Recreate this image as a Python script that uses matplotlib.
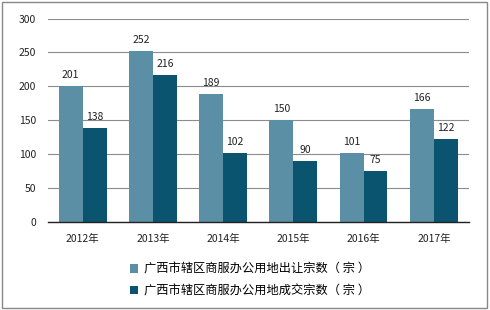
import numpy as np
import matplotlib
matplotlib.use("Agg")
import matplotlib.pyplot as plt
from matplotlib.patches import Rectangle

plt.rcParams['font.family'] = ['Noto Sans CJK SC', 'DejaVu Sans']

years = ["2012年", "2013年", "2014年", "2015年", "2016年", "2017年"]
supply = [201, 252, 189, 150, 101, 166]
deals = [138, 216, 102, 90, 75, 122]
name_supply = "广西市辖区商服办公用地出让宗数（ 宗 ）"
name_deals = "广西市辖区商服办公用地成交宗数（ 宗 ）"

LIGHT = "#5b8fa6"
DARK = "#0b5470"

fig = plt.figure(figsize=(4.9, 3.1), dpi=100)
ax = fig.add_axes([0.097, 0.285, 0.86, 0.655])

x = np.arange(len(years))
w = 0.34
b1 = ax.bar(x - w / 2, supply, w, color=LIGHT, zorder=3, label=name_supply)
b2 = ax.bar(x + w / 2, deals, w, color=DARK, zorder=3, label=name_deals)
for bars, vals in ((b1, supply), (b2, deals)):
    for b, v in zip(bars, vals):
        ax.text(b.get_x() + b.get_width() / 2, v + 9, str(v), ha="center", va="bottom",
                fontsize=7.5, color="#222222", zorder=4)

ax.set_xlim(-0.5, len(years) - 0.5)
ax.set_ylim(0, 300)
ax.set_yticks(range(0, 301, 50))
ax.set_xticks(x)
ax.set_xticklabels(years)
ax.tick_params(axis="x", labelsize=7.5, colors="#222222", length=0, pad=9)
ax.tick_params(axis="y", labelsize=7.5, colors="#222222", length=0, pad=8)
ax.grid(axis="y", color="#8c8c8c", lw=0.8, zorder=0)
for s in ("top", "right", "left"):
    ax.spines[s].set_visible(False)
ax.spines["bottom"].set_color("#222222")
ax.spines["bottom"].set_linewidth(1.0)
ax.spines["bottom"].set_zorder(5)

fig.legend(handles=[b1, b2], loc="upper left", bbox_to_anchor=(0.252, 0.172),
           frameon=False, fontsize=8.8, handlelength=0.7, handleheight=0.7,
           handletextpad=0.45, labelspacing=0.7, borderpad=0)

fig.patches.append(Rectangle((0.004, 0.006), 0.99, 0.988, transform=fig.transFigure,
                             fill=False, ec="#888888", lw=1.0))
fig.savefig("out.png", dpi=100)
